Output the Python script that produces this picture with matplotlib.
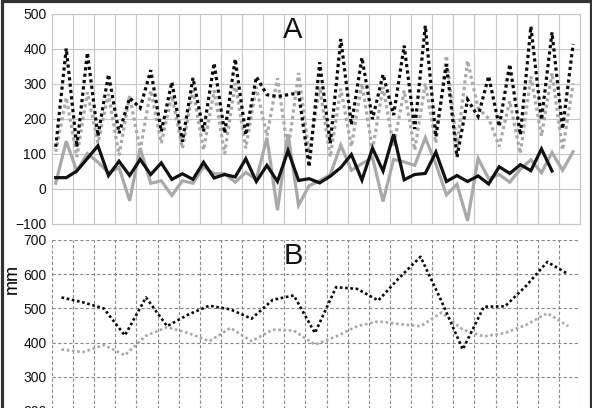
import matplotlib.pyplot as plt
import numpy as np
from matplotlib.patches import Rectangle

plt.rcParams['font.family'] = ['Liberation Sans', 'DejaVu Sans']

# Panel A series (50 half-column steps, black solid is 2 shorter)
a_black_solid = [31, 31, 50, 86, 122, 37, 78, 37, 83, 40, 73, 26, 42, 26, 75, 30,
                 40, 33, 85, 20, 66, 20, 108, 23, 28, 16, 35, 60, 97, 24, 115, 50,
                 155, 25, 40, 43, 104, 20, 37, 20, 36, 13, 62, 43, 68, 51, 113, 50]
a_gray_solid = [15, 135, 50, 100, 75, 45, 60, -35, 115, 15, 22, -20, 22, 15, 62, 42,
                42, 18, 46, 26, 145, -62, 155, -48, 8, 22, 40, 124, 52, 71, 88, -37,
                83, 76, 66, 145, 70, -18, 12, -92, 86, 28, 40, 18, 55, 82, 45, 103,
                52, 105]
a_black_dot = [119, 400, 119, 388, 150, 326, 158, 259, 230, 338, 163, 304, 134, 316,
               163, 358, 158, 370, 153, 319, 268, 263, 268, 273, 62, 360, 129, 427,
               182, 374, 198, 326, 210, 408, 170, 465, 148, 355, 90, 254, 206, 321,
               177, 355, 153, 463, 196, 446, 170, 413]
a_gray_dot = [105, 260, 90, 275, 130, 270, 95, 265, 110, 280, 130, 265, 115, 280,
              110, 280, 100, 300, 115, 290, 150, 315, 105, 330, 100, 290, 90, 285,
              120, 300, 110, 290, 120, 280, 110, 300, 130, 380, 120, 365, 230, 200,
              120, 250, 100, 320, 150, 330, 110, 300]

# Panel B series (25 columns, mm)
b_black = [532, 518, 500, 421, 532, 448, 482, 508, 497, 470, 525, 538, 428,
           562, 557, 523, 590, 651, 520, 380, 505, 506, 566, 636, 600]
b_gray = [380, 372, 393, 363, 420, 445, 428, 404, 443, 404, 438, 435, 394,
          418, 448, 462, 454, 448, 488, 438, 418, 428, 452, 486, 448]

W, H = 592, 408
fig = plt.figure(figsize=(W / 100, H / 100), dpi=100)

grey_line = '#a9a9a9'
tick_kw = dict(length=0, pad=4, labelsize=10, colors='#111111')

# ---- panel A
axA = fig.add_axes([52 / W, (H - 223.5) / H, 528 / W, 210 / H])
xa = np.arange(len(a_gray_solid)) + 0.35
axA.plot(xa, a_gray_dot, color=grey_line, lw=2.3, ls=(0, (1, 1)),
         dash_capstyle='butt', dash_joinstyle='miter')
axA.plot(xa, a_black_dot, color='#0a0a0a', lw=2.3, ls=(0, (1, 1)),
         dash_capstyle='butt', dash_joinstyle='miter')
axA.plot(xa, a_gray_solid, color=grey_line, lw=2.3, solid_joinstyle='miter')
axA.plot(xa[:len(a_black_solid)], a_black_solid, color='#111111', lw=2.3,
         solid_joinstyle='miter')
axA.set_xlim(0, 50)
axA.set_ylim(-100, 500)
axA.set_xticks(np.arange(0, 51, 2))
axA.set_yticks(np.arange(-100, 501, 100))
axA.xaxis.set_ticklabels([])
axA.tick_params(axis='y', **tick_kw)
axA.tick_params(axis='x', length=0)
axA.grid(True, color='#c6c6c6', lw=0.8)
axA.set_axisbelow(True)
for s in axA.spines.values():
    s.set_color('#c6c6c6')
    s.set_linewidth(0.8)

# ---- panel B (bottom runs past the picture edge)
axB = fig.add_axes([52 / W, (H - 411) / H, 528 / W, 171 / H])
xb = np.arange(len(b_black)) + 0.45
axB.plot(xb, b_gray, color=grey_line, lw=1.9, ls=(0, (1, 1)), dash_capstyle='butt')
axB.plot(xb, b_black, color='#0a0a0a', lw=1.9, ls=(0, (1, 1)), dash_capstyle='butt')
axB.set_xlim(0, 25)
axB.set_ylim(200, 700)
axB.set_xticks(np.arange(0, 26, 1))
axB.set_yticks(np.arange(200, 701, 100))
axB.xaxis.set_ticklabels([])
axB.tick_params(axis='y', **tick_kw)
axB.tick_params(axis='x', length=0)
axB.grid(True, color='#8a8a8a', lw=0.8, ls=(0, (3, 2)))
axB.set_axisbelow(True)
for s in axB.spines.values():
    s.set_visible(False)

# panel letters and unit label
fig.text(293 / W, (H - 30) / H, 'A', fontsize=21, ha='center', va='center', color='#111111')
fig.text(293 / W, (H - 256) / H, 'B', fontsize=21, ha='center', va='center', color='#111111')
fig.text(12 / W, (H - 279) / H, 'mm', fontsize=13, rotation=90, ha='center', va='center')

# outer frame (bottom edge falls outside the crop)
fig.add_artist(Rectangle((1.5 / W, -0.05), (590.5 - 1.5) / W, (H - 1.5) / H + 0.05,
                         transform=fig.transFigure, fill=False,
                         edgecolor='#333333', lw=2.3, clip_on=False))

fig.savefig('out.png', dpi=100)
